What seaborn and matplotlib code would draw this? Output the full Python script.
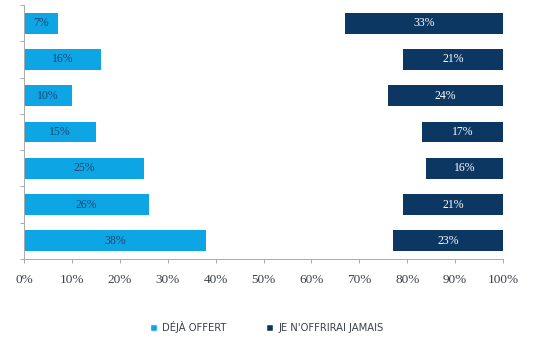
import matplotlib
matplotlib.use("Agg")
import matplotlib.pyplot as plt
from matplotlib.patches import Patch
import seaborn as sns
import pandas as pd

# Survey rows, top to bottom
rows = ["A", "B", "C", "D", "E", "F", "G"]
deja_offert = [7, 16, 10, 15, 25, 26, 38]
jamais = [33, 21, 24, 17, 16, 21, 23]
tick_values = list(range(0, 101, 10))
tick_labels = [f"{v}%" for v in tick_values]
legend_labels = ["DÉJÀ OFFERT", "JE N'OFFRIRAI JAMAIS"]

light_blue = "#0ea5e4"
navy = "#0c3763"

sns.set_theme(style="white")
plt.rcParams["font.family"] = ["Liberation Serif", "DejaVu Serif"]

df = pd.DataFrame({"row": rows, "deja": deja_offert, "jamais": jamais})
df["start"] = 100 - df["jamais"]

fig = plt.figure(figsize=(5.33, 3.38), dpi=100)
ax = fig.add_axes([0.045, 0.234, 0.899, 0.751])

sns.barplot(data=df, x="deja", y="row", orient="h", color=light_blue,
            saturation=1, width=0.57, ax=ax, linewidth=0)
sns.barplot(data=df, x="jamais", y="row", orient="h", color=navy,
            saturation=1, width=0.57, ax=ax, linewidth=0, left=df["start"])

for i, (d, j) in enumerate(zip(deja_offert, jamais)):
    ax.text(d / 2, i, f"{d}%", ha="center", va="center", fontsize=8.5,
            color="#1a4670")
    ax.text(100 - j / 2, i, f"{j}%", ha="center", va="center", fontsize=8.5,
            color="white")

ax.set_xlim(0, 100)
ax.set_ylim(len(rows) - 0.5, -0.5)
ax.set_xticks(tick_values)
ax.set_xticklabels(tick_labels, fontsize=9.5, color="#3a3f48")
ax.set_yticks([i - 0.5 for i in range(len(rows) + 1)])
ax.set_yticklabels([])
ax.tick_params(axis="x", bottom=True, length=3, width=0.6, color="#999999", pad=8)
ax.tick_params(axis="y", left=True, length=3, width=0.6, color="#999999")
ax.set_xlabel("")
ax.set_ylabel("")
for side in ["top", "right"]:
    ax.spines[side].set_visible(False)
for side in ["left", "bottom"]:
    ax.spines[side].set_color("#aaaaaa")
    ax.spines[side].set_linewidth(0.7)

handles = [Patch(facecolor=light_blue), Patch(facecolor=navy)]
fig.legend(handles, legend_labels, loc="center", bbox_to_anchor=(0.5, 0.033),
           ncol=2, frameon=False, handlelength=0.7, handleheight=0.7,
           columnspacing=4.0, handletextpad=0.5,
           prop={"family": "DejaVu Sans", "size": 7.2},
           labelcolor="#3a3f48")

fig.savefig("out.png", dpi=100)
